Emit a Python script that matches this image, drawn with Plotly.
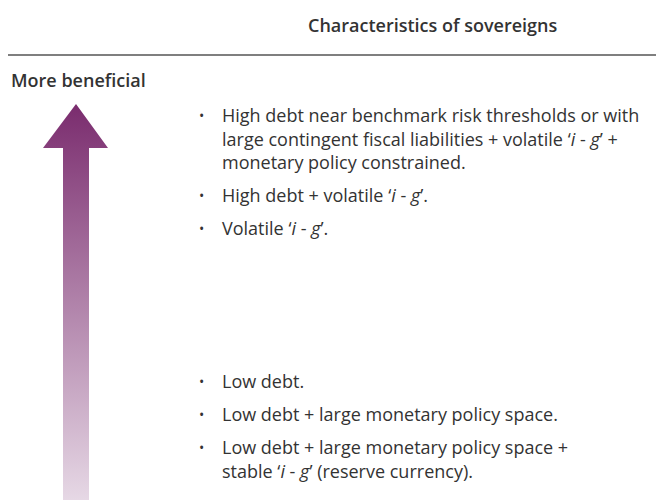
import plotly.graph_objects as go

# ---- content ----
header_text = "Characteristics of sovereigns"
axis_label = "More beneficial"
items = [
    ["High debt near benchmark risk thresholds or with",
     "large contingent fiscal liabilities + volatile ‘<i>i</i> - <i>g</i>’ +",
     "monetary policy constrained."],
    ["High debt + volatile ‘<i>i</i> - <i>g</i>’."],
    ["Volatile ‘<i>i</i> - <i>g</i>’."],
    ["Low debt."],
    ["Low debt + large monetary policy space."],
    ["Low debt + large monetary policy space +",
     "stable ‘<i>i</i> - <i>g</i>’ (reserve currency)."],
]
# vertical position (px from top) of each item's first line
item_tops = [115, 195, 228, 381, 414, 447]

# ---- layout constants ----
W, H = 664, 500
OFF = 8  # page body margin
LINE_STEP = 23.5
TEXT_X = 220
BULLET_X = 201
FONT = "Open Sans"
FS = 18
TXT_COLOR = "#333333"
DARK = "#7a2c6e"
LIGHT = "#e6d8e5"

fig = go.Figure()

# gradient arrow (polygon in pixel coordinates)
ax = [63, 63, 43, 76, 108, 89, 89, 63]
ay = [505, 148, 148, 104, 148, 148, 505, 505]
fig.add_trace(go.Scatter(
    x=ax, y=ay, mode="lines", fill="toself",
    line=dict(width=0, color="rgba(0,0,0,0)"),
    fillgradient=dict(type="vertical", start=104, stop=500,
                      colorscale=[[0, DARK], [1, LIGHT]]),
    hoverinfo="skip", showlegend=False,
))

annotations = []
annotations.append(dict(x=432, y=25, text=header_text, showarrow=False,
                        xanchor="center", yanchor="middle",
                        font=dict(family=FONT, size=FS, color=TXT_COLOR, weight=600)))
annotations.append(dict(x=OFF + 0.5, y=80, text=axis_label, showarrow=False,
                        xanchor="left", yanchor="middle",
                        font=dict(family=FONT, size=FS, color=TXT_COLOR, weight=600)))

for lines, top in zip(items, item_tops):
    annotations.append(dict(x=BULLET_X, y=top, text="•", showarrow=False,
                            xanchor="center", yanchor="middle",
                            font=dict(family=FONT, size=14, color=TXT_COLOR)))
    for k, ln in enumerate(lines):
        annotations.append(dict(x=TEXT_X, y=top + k * LINE_STEP, text=ln,
                                showarrow=False, xanchor="left", yanchor="middle",
                                font=dict(family=FONT, size=FS, color=TXT_COLOR)))

for a in annotations:
    a["xref"] = "x"
    a["yref"] = "y"

fig.update_layout(
    width=W - OFF, height=H - OFF,
    margin=dict(l=0, r=0, t=0, b=0),
    paper_bgcolor="white", plot_bgcolor="white",
    xaxis=dict(range=[OFF, W], visible=False, fixedrange=True),
    yaxis=dict(range=[H, OFF], visible=False, fixedrange=True),
    annotations=annotations,
    shapes=[dict(type="line", xref="x", yref="y", x0=0, x1=W, y0=55, y1=55,
                 line=dict(color="#555555", width=1.5))],
)

fig.write_html("out.html")
